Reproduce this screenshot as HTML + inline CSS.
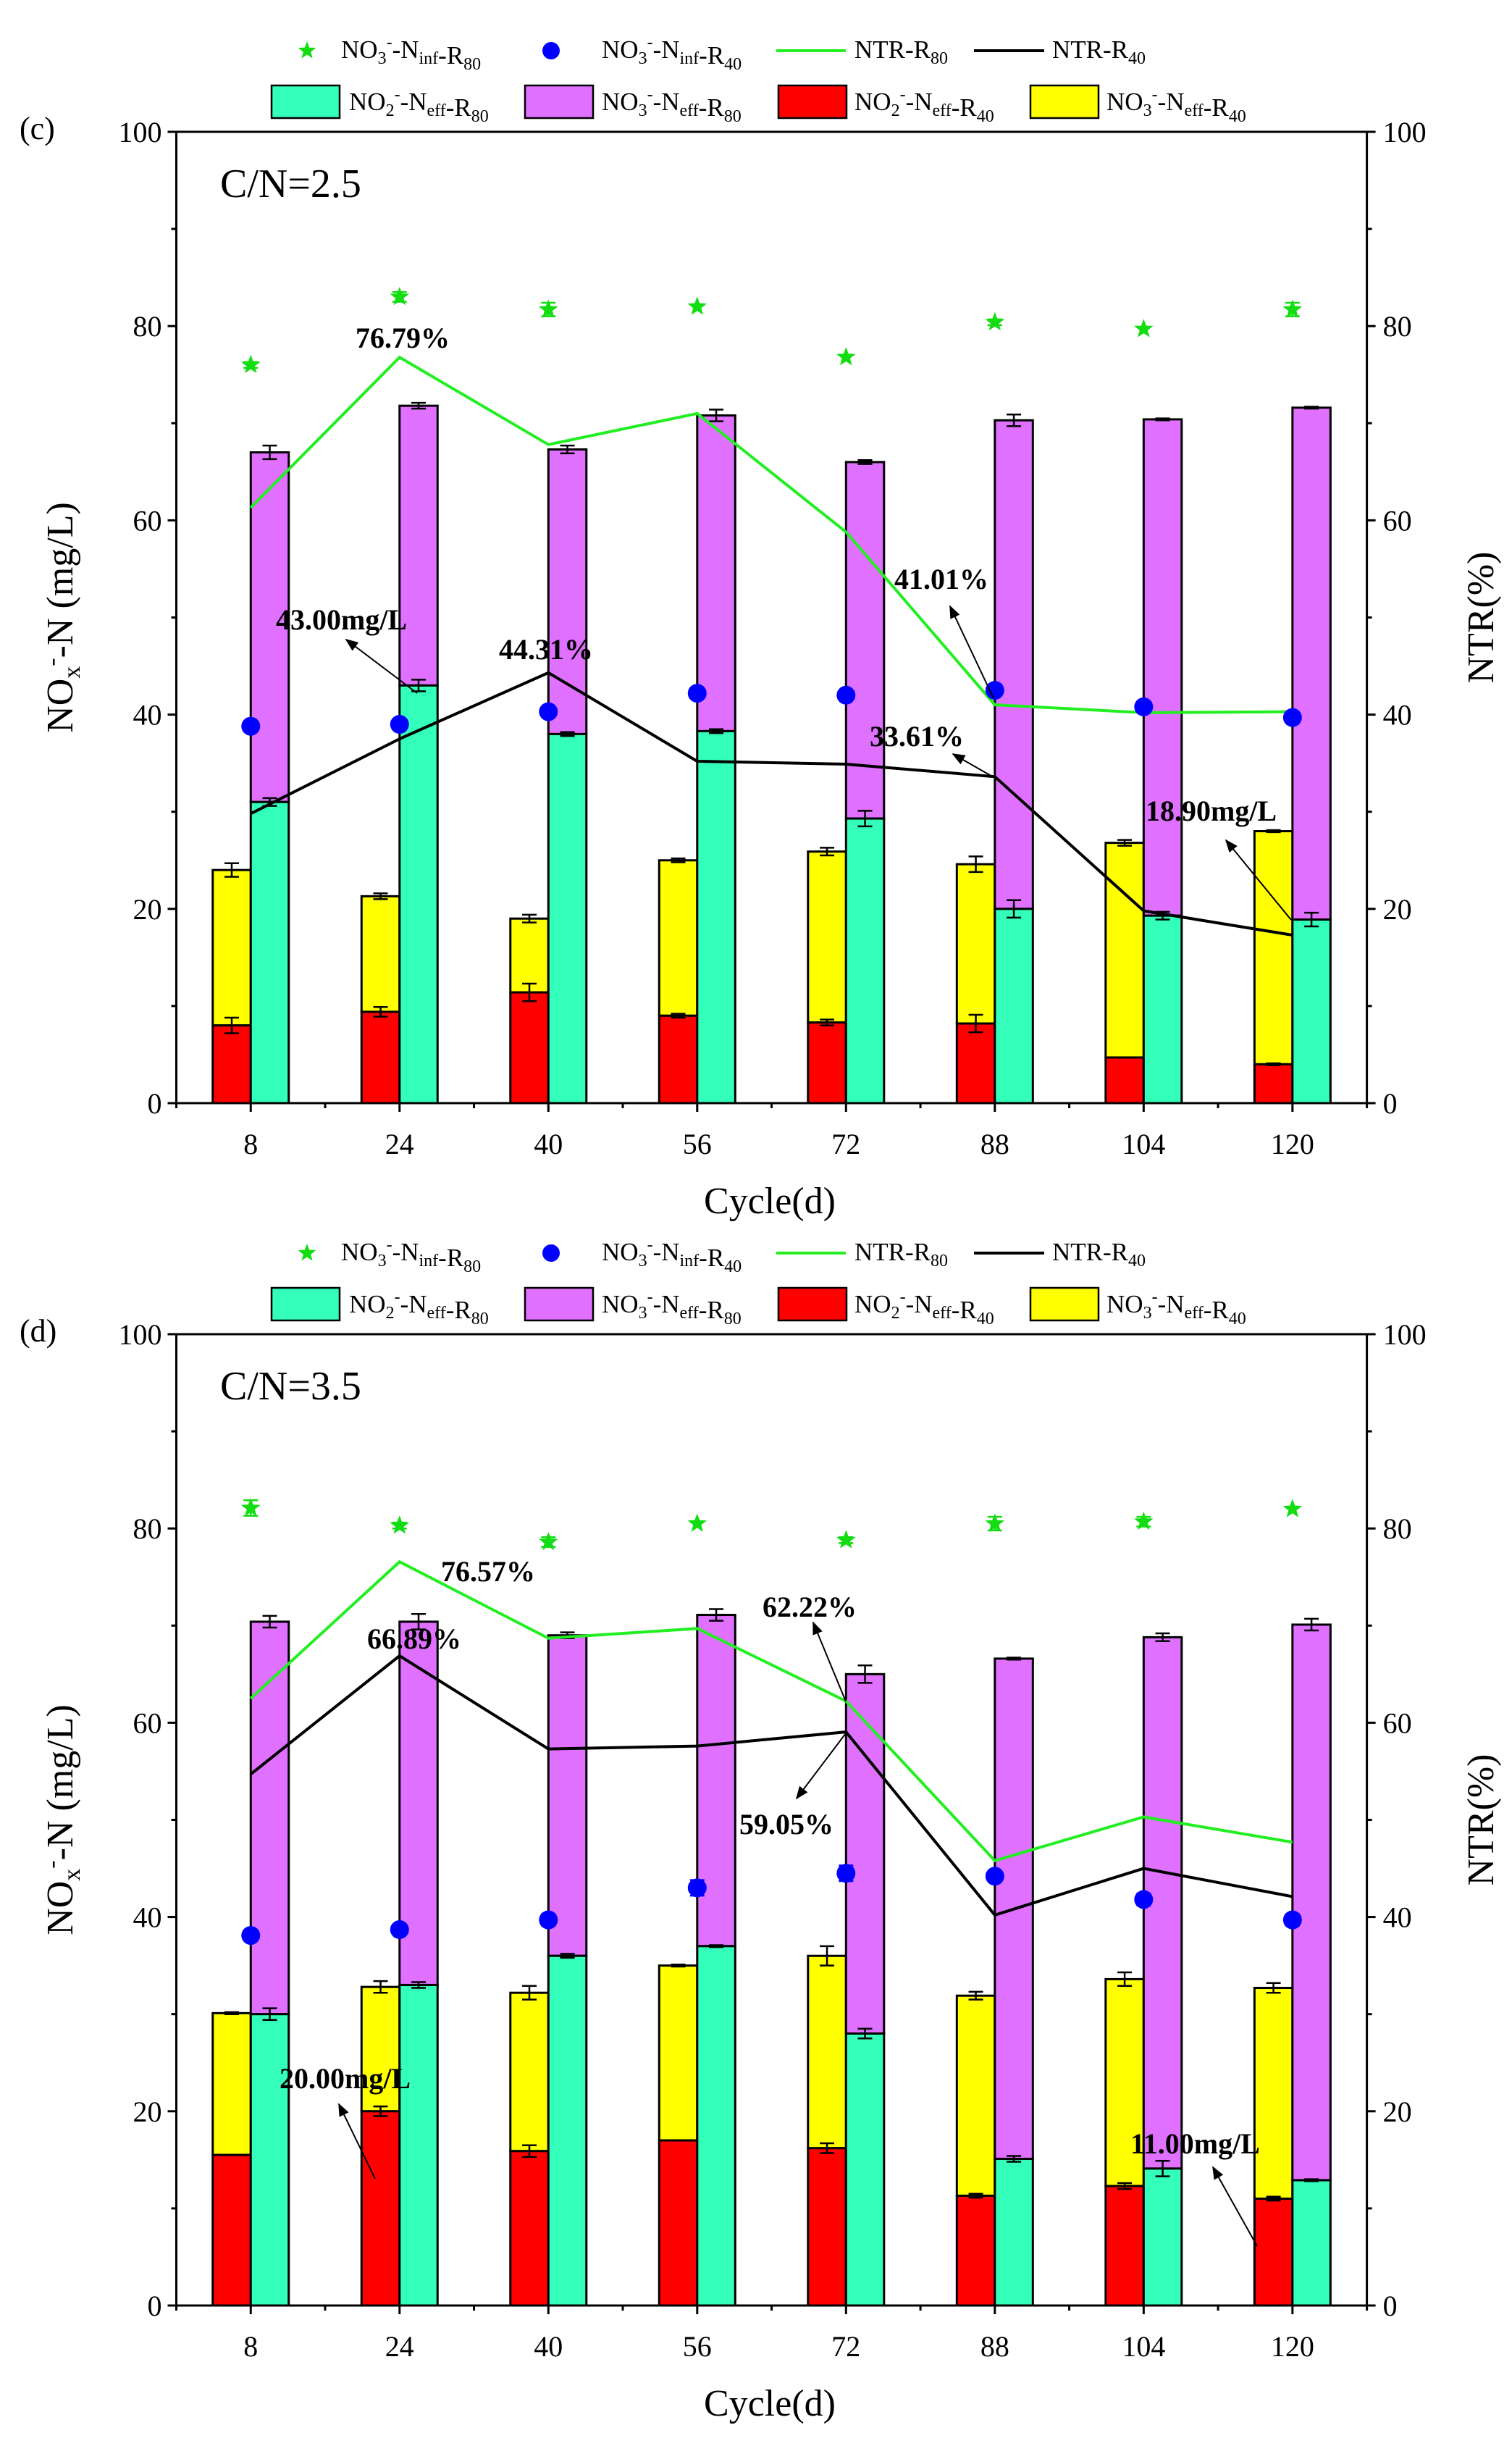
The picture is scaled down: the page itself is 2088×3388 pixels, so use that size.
<!DOCTYPE html>
<html><head><meta charset="utf-8"><style>
html,body{margin:0;padding:0;background:#fff;}
svg{display:block;}
svg text{font-family:"Liberation Serif","Times New Roman",serif;}
</style></head><body>
<svg id="chart" width="2088" height="3388" viewBox="0 0 2088 3388" xmlns="http://www.w3.org/2000/svg" font-family="Liberation Serif, serif">
<defs><marker id="ah" viewBox="0 0 10 10" refX="9" refY="5" markerWidth="9" markerHeight="9" orient="auto"><path d="M0,1 L10,5 L0,9 Z" fill="#000"/></marker></defs>
</svg>
<script>
const categories = ["8","24","40","56","72","88","104","120"];
const yTicks = [0,20,40,60,80,100];
// panel c
const c_no2R40 = [8,9.4,11.4,9,8.3,8.2,4.7,4.0];
const c_totR40 = [24,21.3,19,25,25.9,24.6,26.8,28];
const c_no2R80 = [31,43,38,38.3,29.3,20,19.3,18.9];
const c_totR80 = [67,71.8,67.3,70.8,66,70.3,70.4,71.6];
const c_infR80 = [76,83,81.7,82,76.8,80.4,79.7,81.7];
const c_infR40 = [38.8,39,40.3,42.2,42,42.5,40.8,39.7];
const c_ntrR80 = [61.3,76.79,67.8,71,58.8,41.01,40.2,40.3];
const c_ntrR40 = [29.8,37.5,44.31,35.2,34.9,33.61,19.8,17.3];
const c_errNo2R40 = [0.8,0.5,0.9,0.2,0.3,0.9,0,0.1];
const c_errTotR40 = [0.7,0.3,0.4,0.2,0.4,0.8,0.3,0.1];
const c_errNo2R80 = [0.4,0.6,0.2,0.2,0.8,0.9,0.4,0.7];
const c_errTotR80 = [0.7,0.3,0.4,0.6,0.2,0.6,0.1,0.1];
const c_errInfR80 = [0.3,0.5,0.7,0,0,0.3,0,0.7];
const c_errInfR40 = [0,0,0,0.5,0,0.3,0,0];
// panel d
const d_no2R40 = [15.5,20,15.9,17,16.2,11.3,12.3,11];
const d_totR40 = [30.1,32.8,32.2,35,36,31.9,33.6,32.7];
const d_no2R80 = [30,33,36,37,28,15.1,14.1,12.9];
const d_totR80 = [70.4,70.4,69,71.1,65,66.6,68.8,70.1];
const d_infR80 = [82.1,80.3,78.6,80.5,78.8,80.5,80.7,82];
const d_infR40 = [38.1,38.7,39.7,43,44.5,44.2,41.8,39.7];
const d_ntrR80 = [62.5,76.57,68.7,69.7,62.22,45.8,50.3,47.7];
const d_ntrR40 = [54.7,66.89,57.3,57.6,59.05,40.2,45,42.1];
const d_errNo2R40 = [0,0.5,0.6,0,0.5,0.2,0.3,0.2];
const d_errTotR40 = [0.1,0.6,0.7,0.1,1,0.4,0.7,0.5];
const d_errNo2R80 = [0.6,0.3,0.2,0.1,0.5,0.3,0.8,0.1];
const d_errTotR80 = [0.6,0.8,0.3,0.6,0.9,0.1,0.4,0.6];
const d_errInfR80 = [0.8,0.3,0.5,0,0.3,0.7,0.5,0];
const d_errInfR40 = [0.3,0.5,0.6,0.8,0.8,0.3,0.6,0.6];

const NS="http://www.w3.org/2000/svg";
const svg=document.getElementById('chart');
function mk(tag,attrs,parent,name){const e=document.createElementNS(NS,tag);for(const k in attrs)e.setAttribute(k,attrs[k]);


(parent||svg).appendChild(e);return e;}
function txt(x,y,s,size,parent,name,extra){const t=mk('text',Object.assign({x:x,y:y,'font-size':size,fill:'#000','font-family':'Liberation Serif, serif'},extra||{}),parent,name);t.innerHTML=s;return t;}
const SUBS = (a)=>`<tspan dy="8" font-size="24">${a}</tspan><tspan dy="-8"></tspan>`;
const SUPS = (a)=>`<tspan dy="-14" font-size="24">${a}</tspan><tspan dy="14"></tspan>`;
const lbl = (n,sup,sub2,r)=>`NO<tspan dy="8" font-size="24">${n}</tspan><tspan dy="-22" font-size="24">${sup}</tspan><tspan dy="14">-N</tspan>${SUBS(sub2)}-R${SUBS(r)}`;
function star(g,cx,cy,r,name){let p='';for(let k=0;k<10;k++){const a=-Math.PI/2+k*Math.PI/5;const rr=k%2?r*0.42:r;p+=(k?'L':'M')+(cx+rr*Math.cos(a)).toFixed(1)+','+(cy+rr*Math.sin(a)).toFixed(1);}
return mk('path',{d:p+'Z',fill:'#11DD11'},g,name);}

function panel(off,letter,cn,D,ann){
  const g=mk('g',{},svg,'panel-'+letter);
  const L=243.5,R=1887.6,T=182+off,B=1523+off,H=B-T,band=(R-L)/8,bw=52.5;
  const y=v=>B-v/100*H, xc=i=>L+(i+0.5)*band;
  const lg=mk('g',{},g,'legend');
  const r1=76+off, r2=142+off;
  star(lg,424,r1-6,13,'legend-star-inf-r80'); txt(471,r1+4,lbl('3','-','inf','80'),35,lg,'legend-label-inf-r80');
  mk('circle',{cx:761,cy:r1-6,r:12,fill:'#0000FF'},lg,'legend-dot-inf-r40'); txt(831,r1+4,lbl('3','-','inf','40'),35,lg,'legend-label-inf-r40');
  mk('line',{x1:1072,y1:r1-6,x2:1168,y2:r1-6,stroke:'#22EE22','stroke-width':4},lg,'legend-line-ntr-r80'); txt(1180,r1+4,'NTR-R'+SUBS('80'),35,lg,'legend-label-ntr-r80');
  mk('line',{x1:1345,y1:r1-6,x2:1442,y2:r1-6,stroke:'#000','stroke-width':4},lg,'legend-line-ntr-r40'); txt(1453,r1+4,'NTR-R'+SUBS('40'),35,lg,'legend-label-ntr-r40');
  const boxes=[[375,'#33FFBB',482,lbl('2','-','eff','80')],[725,'#E070FF',831,lbl('3','-','eff','80')],[1075,'#FF0000',1180,lbl('2','-','eff','40')],[1423,'#FFFF00',1528,lbl('3','-','eff','40')]];
  boxes.forEach((b,k)=>{mk('rect',{x:b[0],y:r2-24,width:94,height:45,fill:b[1],stroke:'#000','stroke-width':2.5},lg,'legend-swatch-'+k);txt(b[2],r2+10,b[3],35,lg,'legend-label-bar-'+k);});
  txt(27,T+10,'('+letter+')',44,g,'panel-label');
  txt(304,T+90,'C/N='+cn,56,g,'cn-label');
  const bars=mk('g',{},g,'bars');
  function eb(x,v,e,nm){if(e<=0)return;const gg=mk('g',{stroke:'#000','stroke-width':2.5},bars,nm);
    mk('line',{x1:x,y1:y(v+e),x2:x,y2:y(v-e)},gg,'error-stem');mk('line',{x1:x-10,y1:y(v+e),x2:x+10,y2:y(v+e)},gg,'error-cap');mk('line',{x1:x-10,y1:y(v-e),x2:x+10,y2:y(v-e)},gg,'error-cap');}
  categories.forEach((c,i)=>{
    const x=xc(i);
    mk('rect',{x:x-bw,y:y(D.totR40[i]),width:bw,height:y(D.no2R40[i])-y(D.totR40[i]),fill:'#FFFF00',stroke:'#000','stroke-width':3},bars,'bar-no3-eff-r40-'+c);
    mk('rect',{x:x-bw,y:y(D.no2R40[i]),width:bw,height:B-y(D.no2R40[i]),fill:'#FF0000',stroke:'#000','stroke-width':3},bars,'bar-no2-eff-r40-'+c);
    mk('rect',{x:x,y:y(D.totR80[i]),width:bw,height:y(D.no2R80[i])-y(D.totR80[i]),fill:'#E070FF',stroke:'#000','stroke-width':3},bars,'bar-no3-eff-r80-'+c);
    mk('rect',{x:x,y:y(D.no2R80[i]),width:bw,height:B-y(D.no2R80[i]),fill:'#33FFBB',stroke:'#000','stroke-width':3},bars,'bar-no2-eff-r80-'+c);
    eb(x-bw/2,D.no2R40[i],D.eNo2R40[i],'error-no2-r40');eb(x-bw/2,D.totR40[i],D.eTotR40[i],'error-tot-r40');
    eb(x+bw/2,D.no2R80[i],D.eNo2R80[i],'error-no2-r80');eb(x+bw/2,D.totR80[i],D.eTotR80[i],'error-tot-r80');
  });
  mk('polyline',{points:D.ntrR80.map((v,i)=>xc(i)+','+y(v)).join(' '),fill:'none',stroke:'#22EE22','stroke-width':4},g,'line-ntr-r80');
  mk('polyline',{points:D.ntrR40.map((v,i)=>xc(i)+','+y(v)).join(' '),fill:'none',stroke:'#000','stroke-width':4},g,'line-ntr-r40');
  categories.forEach((c,i)=>{const x=xc(i);
    if(D.eInfR80[i]>0){const gg=mk('g',{stroke:'#11DD11','stroke-width':2.5},g,'error-inf-r80');const a=y(D.infR80[i]+D.eInfR80[i]),b=y(D.infR80[i]-D.eInfR80[i]);mk('line',{x1:x,y1:a,x2:x,y2:b},gg,'error-stem');mk('line',{x1:x-10,y1:a,x2:x+10,y2:a},gg,'error-cap');mk('line',{x1:x-10,y1:b,x2:x+10,y2:b},gg,'error-cap');}
    star(g,x,y(D.infR80[i]),14,'point-inf-r80-'+c);
    if(D.eInfR40[i]>0){const gg=mk('g',{stroke:'#0000FF','stroke-width':2.5},g,'error-inf-r40');const a=y(D.infR40[i]+D.eInfR40[i]),b=y(D.infR40[i]-D.eInfR40[i]);mk('line',{x1:x,y1:a,x2:x,y2:b},gg,'error-stem');mk('line',{x1:x-10,y1:a,x2:x+10,y2:a},gg,'error-cap');mk('line',{x1:x-10,y1:b,x2:x+10,y2:b},gg,'error-cap');}
    mk('circle',{cx:x,cy:y(D.infR40[i]),r:13,fill:'#0000FF'},g,'point-inf-r40-'+c);
  });
  const ax=mk('g',{stroke:'#000','stroke-width':3,fill:'none'},g,'axes');
  mk('rect',{x:L,y:T,width:R-L,height:H},ax,'plot-frame');
  for(let v=0;v<=100;v+=10){const maj=v%20===0,len=maj?12:7;
    mk('line',{x1:L,y1:y(v),x2:L-len,y2:y(v)},ax,'y-tick-left');mk('line',{x1:R,y1:y(v),x2:R+len,y2:y(v)},ax,'y-tick-right');}
  for(let k=0;k<=8;k++){const x=L+k*band;mk('line',{x1:x,y1:B,x2:x,y2:B+7},ax,'x-minor-tick');}
  categories.forEach((c,i)=>{mk('line',{x1:xc(i),y1:B,x2:xc(i),y2:B+12},ax,'x-major-tick');
    txt(xc(i),B+70,c,40,g,'x-tick-label',{'text-anchor':'middle'});});
  yTicks.forEach(v=>{txt(L-20,y(v)+14,v,40,g,'y-tick-label-left',{'text-anchor':'end'});txt(R+22,y(v)+14,v,40,g,'y-tick-label-right');});
  txt(1063,B+152,'Cycle(d)',52,g,'x-axis-title',{'text-anchor':'middle'});
  txt(0,0,'NO<tspan dy="10" font-size="34">x</tspan><tspan dy="-28" font-size="34">-</tspan><tspan dy="18">-N (mg/L)</tspan>',52,g,'y-axis-title-left',{'text-anchor':'middle',transform:`translate(100,${(T+B)/2}) rotate(-90)`});
  txt(0,0,'NTR(%)',52,g,'y-axis-title-right',{'text-anchor':'middle',transform:`translate(2062,${(T+B)/2}) rotate(-90)`});
  ann.forEach(a=>{txt(a[0],a[1]+off,a[2],40,g,'annotation',{'font-weight':'bold'});
    if(a[3])mk('line',{x1:a[3],y1:a[4]+off,x2:a[5],y2:a[6]+off,stroke:'#000','stroke-width':2,'marker-end':'url(#ah)'},g,'annotation-arrow');});
}
panel(0,'c','2.5',{no2R40:c_no2R40,totR40:c_totR40,no2R80:c_no2R80,totR80:c_totR80,infR80:c_infR80,infR40:c_infR40,ntrR80:c_ntrR80,ntrR40:c_ntrR40,
  eNo2R40:c_errNo2R40,eTotR40:c_errTotR40,eNo2R80:c_errNo2R80,eTotR80:c_errTotR80,eInfR80:c_errInfR80,eInfR40:c_errInfR40},
  [[491,480,'76.79%'],[381,869,'43.00mg/L',576,957,478,883],[689,910,'44.31%'],[1235,813,'41.01%',1372,964,1312,837],
   [1201,1030,'33.61%',1372,1073,1316,1041],[1582,1133,'18.90mg/L',1783,1270,1693,1160]]);
panel(1660,'d','3.5',{no2R40:d_no2R40,totR40:d_totR40,no2R80:d_no2R80,totR80:d_totR80,infR80:d_infR80,infR40:d_infR40,ntrR80:d_ntrR80,ntrR40:d_ntrR40,
  eNo2R40:d_errNo2R40,eTotR40:d_errTotR40,eNo2R80:d_errNo2R80,eTotR80:d_errTotR80,eInfR80:d_errInfR80,eInfR40:d_errInfR40},
  [[609,523,'76.57%'],[507,616,'66.89%'],[1053,572,'62.22%',1168,689,1123,580],[1021,872,'59.05%',1168,733,1100,823],
   [386,1223,'20.00mg/L',518,1348,468,1245],[1561,1313,'11.00mg/L',1736,1441,1675,1332]]);
</script>
</body></html>
